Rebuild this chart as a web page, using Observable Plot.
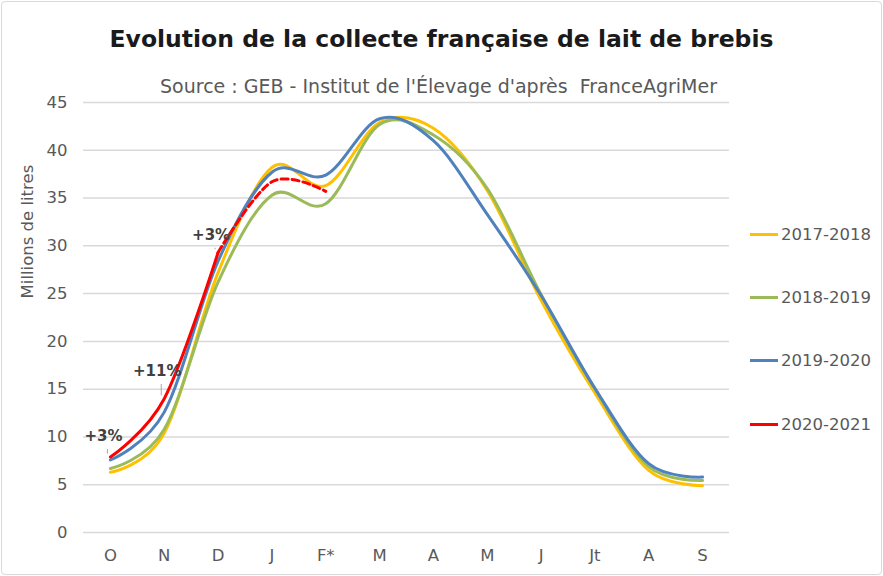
<!DOCTYPE html>
<html>
<head>
<meta charset="utf-8">
<script src="https://cdn.jsdelivr.net/npm/d3@7"></script>
<script src="https://cdn.jsdelivr.net/npm/@observablehq/plot@0.6"></script>
<style>
  html, body { margin: 0; padding: 0; background: #fff; }
  #wrap { position: relative; width: 883px; height: 576px; overflow: hidden; font-family: "DejaVu Sans", sans-serif; }
  #frame { position: absolute; left: 1px; top: 1px; width: 879px; height: 572px; border: 1.5px solid #d9d9d9; border-radius: 4px; pointer-events: none; }
  #title { position: absolute; top: 25px; left: 0; width: 883px; text-align: center; font-weight: bold; font-size: 23.5px; color: #1a1a1a; }
  #subtitle { position: absolute; top: 75px; left: 0; width: 877px; text-align: center; font-size: 19px; color: #595959; background: transparent; }
  #chart { position: absolute; left: 0; top: 0; }
  #legend { position: absolute; left: 750px; top: 0; }
  .li { position: absolute; left: 0; display: flex; align-items: center; white-space: nowrap; font-size: 16.5px; color: #595959; }
  .sw { width: 28px; height: 3px; margin-right: 3px; }
</style>
</head>
<body>
<div id="wrap">
  <div id="chart"></div>
  <div id="title">Evolution de la collecte française de lait de brebis</div>
  <div id="subtitle">Source : GEB - Institut de l'Élevage d'après&nbsp; FranceAgriMer</div>
  <div id="legend"></div>
  <div id="frame"></div>
</div>
<script>
const monthKeys = ["O","N","D","J1","F","M1","A1","M2","J2","Jt","A2","S"];
const tickLabels = ["O","N","D","J","F*","M","A","M","J","Jt","A","S"];
const seriesNames = ["2017-2018","2018-2019","2019-2020","2020-2021"];
const seriesColors = ["#FFC000","#9BBB59","#4F81BD","#FF0000"];

const v2017_2018 = [6.3, 10.4, 27.2, 38.2, 36.3, 42.9, 42.3, 35.8, 24.3, 14.6, 6.5, 4.9];
const v2018_2019 = [6.7, 10.8, 26.2, 35.3, 34.4, 42.7, 41.6, 36.0, 24.9, 15.0, 6.9, 5.45];
const v2019_2020 = [7.6, 12.6, 28.4, 37.7, 37.4, 43.3, 41.0, 33.3, 24.8, 15.1, 7.2, 5.8];
const v2020_2021 = [7.9, 14.0, 29.3, 36.7, 35.7];

const annotLabels = ["+3%", "+11%", "+3%"];
const annotMonths = ["O", "N", "D"];
const annotTextY = [10.05, 16.85, 31.1];

const toRows = (vals, name) => vals.map((v, i) => ({m: monthKeys[i], v, s: name}));
const rows = [
  ...toRows(v2017_2018, seriesNames[0]),
  ...toRows(v2018_2019, seriesNames[1]),
  ...toRows(v2019_2020, seriesNames[2])
];
const redRows = toRows(v2020_2021, seriesNames[3]);
const redSolid = redRows.slice(0, 3);
const redDashed = redRows.slice(2);

const annots = annotLabels.map((label, i) => ({
  label, m: annotMonths[i], ty: annotTextY[i],
  rv: v2020_2021[monthKeys.indexOf(annotMonths[i])]
}));

const labelOf = Object.fromEntries(monthKeys.map((k, i) => [k, tickLabels[i]]));

const plot = Plot.plot({
  width: 883,
  height: 576,
  marginTop: 102,
  marginBottom: 44,
  marginLeft: 83,
  marginRight: 154,
  style: {fontFamily: "DejaVu Sans, sans-serif", fontSize: "16.5px", color: "#595959", background: "transparent"},
  x: {type: "point", domain: monthKeys, padding: 0.5, round: false},
  y: {domain: [0, 45]},
  color: {domain: seriesNames, range: seriesColors},
  marks: [
    Plot.gridY(d3.range(0, 46, 5), {stroke: "#d9d9d9", strokeOpacity: 1, strokeWidth: 1.5}),
    Plot.axisY(d3.range(0, 46, 5), {tickSize: 0, tickPadding: 16, fontSize: "16.5px", fill: "#595959", label: null}),
    Plot.axisX({tickSize: 0, tickPadding: 17, tickFormat: d => labelOf[d], fontSize: "16.5px", fill: "#595959", label: null}),
    Plot.text(["Millions de litres"], {frameAnchor: "left", dx: -56, y: 24.5, rotate: -90, fontSize: "16.5px", fill: "#595959"}),
    Plot.line(rows, {x: "m", y: "v", z: "s", stroke: "s", strokeWidth: 3, curve: "cardinal"}),
    Plot.line(redSolid, {x: "m", y: "v", stroke: "s", strokeWidth: 3, curve: "cardinal"}),
    Plot.line(redDashed, {x: "m", y: "v", stroke: "s", strokeWidth: 3, strokeDasharray: "7,4", curve: "cardinal"}),
    Plot.link(annots, {x1: "m", x2: "m", y1: d => d.ty - 1.3, y2: d => d.rv + 0.35, dx: -3, stroke: "#a6a6a6", strokeWidth: 1}),
    Plot.text(annots, {x: "m", y: "ty", text: "label", dx: -7, fontWeight: "bold", fontSize: "15px", fill: "#404040"})
  ]
});
document.getElementById("chart").appendChild(plot);

const legend = document.getElementById("legend");
const legendTops = [225, 288, 351, 415];
seriesNames.forEach((name, i) => {
  const item = document.createElement("div");
  item.className = "li";
  item.style.top = legendTops[i] + "px";
  const sw = document.createElement("div");
  sw.className = "sw";
  sw.style.background = seriesColors[i];
  const t = document.createElement("span");
  t.textContent = name;
  item.appendChild(sw);
  item.appendChild(t);
  legend.appendChild(item);
});
</script>
</body>
</html>
